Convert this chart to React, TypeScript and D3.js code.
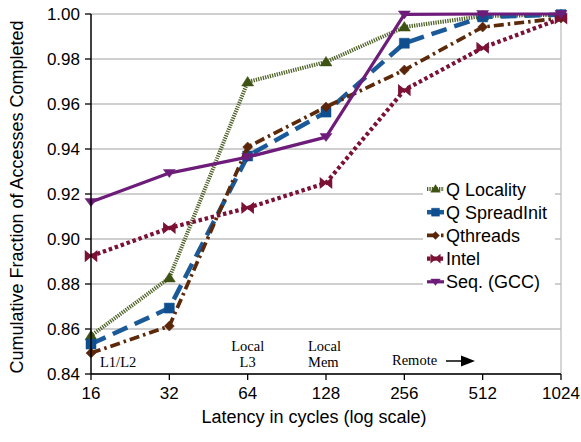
import React from "react";
import * as d3 from "d3";

// Latency buckets (cycles) and cumulative completion fractions per runtime
const latencies = [16, 32, 64, 128, 256, 512, 1024];
const qLocality = [0.857, 0.8827, 0.9698, 0.9787, 0.9942, 0.9991, 0.9997];
const qSpreadInit = [0.8533, 0.8693, 0.9369, 0.9564, 0.987, 0.9987, 0.9997];
const qthreads = [0.8493, 0.8613, 0.9409, 0.9587, 0.9751, 0.9942, 0.9982];
const intel = [0.8924, 0.9049, 0.9138, 0.9249, 0.9662, 0.985, 0.998];
const seqGcc = [0.9164, 0.9293, 0.9364, 0.9453, 0.9998, 1.0, 1.0];
const yTicks = [0.84, 0.86, 0.88, 0.9, 0.92, 0.94, 0.96, 0.98, 1.0];
const seriesNames = ["Q Locality", "Q SpreadInit", "Qthreads", "Intel", "Seq. (GCC)"];

type Marker = "triUp" | "square" | "diamond" | "bowtie" | "triDown";

interface Series {
  name: string;
  values: number[];
  color: string;
  markColor: string;
  width: number;
  dash: string;
  marker: Marker;
}

const series: Series[] = [
  { name: seriesNames[0], values: qLocality, color: "#4F6228", markColor: "#3E5214", width: 4, dash: "1.3,1.1", marker: "triUp" },
  { name: seriesNames[1], values: qSpreadInit, color: "#1B5A98", markColor: "#0F4F8F", width: 4.5, dash: "16,8", marker: "square" },
  { name: seriesNames[2], values: qthreads, color: "#5C2A0A", markColor: "#5A2508", width: 3.7, dash: "10,4,2.5,4", marker: "diamond" },
  { name: seriesNames[3], values: intel, color: "#7B1236", markColor: "#7B1236", width: 4.2, dash: "3.5,2.8", marker: "bowtie" },
  { name: seriesNames[4], values: seqGcc, color: "#6E1C7A", markColor: "#6E1C7A", width: 3.2, dash: "", marker: "triDown" },
];

function markerPath(m: Marker): string {
  switch (m) {
    case "triUp":
      return "M0,-5.5 L6,4 L-6,4 Z";
    case "square":
      return "M-5,-5 L5,-5 L5,5 L-5,5 Z";
    case "diamond":
      return "M0,-5 L5,0 L0,5 L-5,0 Z";
    case "bowtie":
      return "M-5.5,-4.5 L0,0 L-5.5,4.5 Z M5.5,-4.5 L0,0 L5.5,4.5 Z";
    case "triDown":
      return "M-6,-3.5 L6,-3.5 L0,4.5 Z";
  }
}

const W = 581;
const H = 442;
const left = 91;
const right = 561;
const top = 14;
const bottom = 374;

export default function App() {
  const x = d3.scaleLog().base(2).domain([16, 1024]).range([left, right]);
  const y = d3.scaleLinear().domain([0.84, 1.0]).range([bottom, top]);
  const line = d3
    .line<number>()
    .x((_, i) => x(latencies[i]))
    .y((v) => y(v));

  const sans = "'Liberation Sans', Arial, Helvetica, sans-serif";
  const serif = "'Liberation Serif', 'Times New Roman', serif";

  // legend geometry
  const lgX = 427;
  const lgY0 = 189;
  const lgStep = 23.2;

  return (
    <svg
      width={W}
      height={H}
      style={{ position: "absolute", left: 0, top: 0, display: "block", background: "#fff" }}
      fontFamily={sans}
    >
      {/* grid */}
      {yTicks.map((t) => (
        <line key={"g" + t} x1={left} x2={right} y1={y(t)} y2={y(t)} stroke="#BFBFBF" strokeWidth={1.3} />
      ))}
      <line x1={right} x2={right} y1={top} y2={bottom} stroke="#BFBFBF" strokeWidth={1.3} />

      {/* series */}
      {series.map((s) => (
        <g key={s.name}>
          <path
            d={line(s.values) || ""}
            fill="none"
            stroke={s.color}
            strokeWidth={s.width}
            strokeDasharray={s.dash || undefined}
            strokeLinejoin="round"
          />
          {s.values.map((v, i) => (
            <path
              key={i}
              d={markerPath(s.marker)}
              transform={`translate(${x(latencies[i])},${y(v)})`}
              fill={s.markColor}
              stroke={s.markColor}
              strokeWidth={s.marker === "bowtie" ? 1.5 : 0.5}
            />
          ))}
        </g>
      ))}

      {/* axes */}
      <line x1={left} x2={left} y1={top} y2={bottom} stroke="#000" strokeWidth={1.5} />
      <line x1={left} x2={right} y1={bottom} y2={bottom} stroke="#000" strokeWidth={1.5} />
      {yTicks.map((t) => (
        <g key={"y" + t}>
          <line x1={left - 6} x2={left} y1={y(t)} y2={y(t)} stroke="#000" strokeWidth={1.3} />
          <text x={left - 11} y={y(t) + 6} textAnchor="end" fontSize={17} fill="#000">
            {t.toFixed(2)}
          </text>
        </g>
      ))}
      {latencies.map((c) => (
        <g key={"x" + c}>
          <line x1={x(c)} x2={x(c)} y1={bottom} y2={bottom + 6} stroke="#000" strokeWidth={1.3} />
          <text x={x(c)} y={bottom + 25} textAnchor="middle" fontSize={17} fill="#000">
            {c}
          </text>
        </g>
      ))}

      {/* axis titles */}
      <text x={314} y={423} textAnchor="middle" fontSize={18} fill="#000">
        Latency in cycles (log scale)
      </text>
      <text
        transform={`translate(23,${(top + bottom) / 2 + 3}) rotate(-90)`}
        textAnchor="middle"
        fontSize={18}
        fill="#000"
      >
        Cumulative Fraction of Accesses Completed
      </text>

      {/* memory-level annotations */}
      <g fontFamily={serif} fontSize={14.5} fill="#000">
        <text x={100} y={367}>L1/L2</text>
        <text x={x(64)} y={351} textAnchor="middle">Local</text>
        <text x={x(64)} y={367} textAnchor="middle">L3</text>
        <text x={308} y={351}>Local</text>
        <text x={308} y={367}>Mem</text>
        <text x={392} y={365}>Remote</text>
      </g>
      <line x1={446} x2={462} y1={361} y2={361} stroke="#000" strokeWidth={1.5} />
      <path d="M461,355.5 L475,361 L461,366.5 Z" fill="#000" />

      {/* legend */}
      <rect x={423} y={176} width={132} height={118} fill="#fff" />
      {series.map((s, i) => {
        const cy = lgY0 + i * lgStep;
        return (
          <g key={"lg" + s.name}>
            <line
              x1={lgX}
              x2={lgX + 17}
              y1={cy}
              y2={cy}
              stroke={s.color}
              strokeWidth={s.width}
              strokeDasharray={s.dash ? (s.marker === "square" ? "" : s.dash) : undefined}
            />
            <path
              d={markerPath(s.marker)}
              transform={`translate(${lgX + 8.5},${cy}) scale(0.8)`}
              fill={s.markColor}
              stroke={s.markColor}
              strokeWidth={s.marker === "bowtie" ? 1.5 : 0.5}
            />
            <text x={lgX + 19} y={cy + 6.5} fontSize={18} fill="#000">
              {s.name}
            </text>
          </g>
        );
      })}
    </svg>
  );
}
